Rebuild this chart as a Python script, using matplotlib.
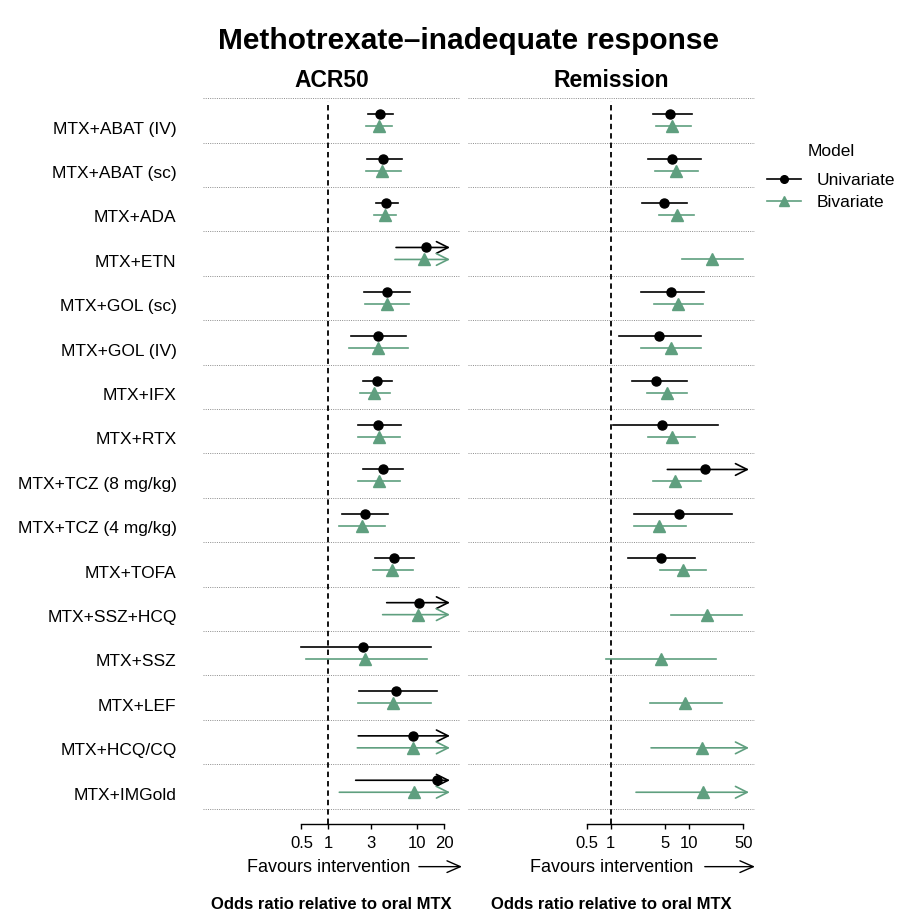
import numpy as np
import matplotlib.pyplot as plt
from matplotlib.lines import Line2D
from matplotlib.ticker import NullLocator

plt.rcParams['font.family'] = ['Liberation Sans', 'DejaVu Sans']

# treatments, top to bottom
labels = ['MTX+ABAT (IV)', 'MTX+ABAT (sc)', 'MTX+ADA', 'MTX+ETN', 'MTX+GOL (sc)',
          'MTX+GOL (IV)', 'MTX+IFX', 'MTX+RTX', 'MTX+TCZ (8 mg/kg)', 'MTX+TCZ (4 mg/kg)',
          'MTX+TOFA', 'MTX+SSZ+HCQ', 'MTX+SSZ', 'MTX+LEF', 'MTX+HCQ/CQ', 'MTX+IMGold']

inf = np.inf
nan = np.nan

# ACR50 - univariate model (odds ratio, lower, upper); inf = beyond axis
acr_uni_est = [3.81, 4.15, 4.45, 12.5, 4.53, 3.59, 3.49, 3.65, 4.15, 2.58, 5.47, 10.5, 2.47, 5.77, 9.02, 16.8]
acr_uni_lo = [2.81, 2.70, 3.41, 5.77, 2.54, 1.78, 2.43, 2.17, 2.47, 1.41, 3.35, 4.53, 0.49, 2.23, 2.17, 2.03]
acr_uni_hi = [5.37, 6.73, 6.02, inf, 8.28, 7.40, 5.15, 6.51, 6.96, 4.65, 9.18, inf, 14.1, 16.8, inf, inf]

# ACR50 - bivariate model
acr_biv_est = [3.71, 4.05, 4.34, 12.0, 4.53, 3.65, 3.29, 3.71, 3.74, 2.41, 5.24, 10.3, 2.58, 5.37, 9.02, 9.25]
acr_biv_lo = [2.65, 2.65, 3.24, 5.61, 2.61, 1.72, 2.27, 2.17, 2.14, 1.33, 3.15, 4.08, 0.56, 2.14, 2.12, 1.33]
acr_biv_hi = [5.24, 6.56, 5.77, inf, 8.13, 7.93, 4.93, 6.39, 6.39, 4.34, 8.88, inf, 12.7, 14.3, inf, inf]

# Remission - univariate model (nan = not estimated)
rem_uni_est = [5.76, 6.05, 4.87, nan, 5.93, 4.16, 3.85, 4.51, 16.2, 7.51, 4.42, nan, nan, nan, nan, nan]
rem_uni_lo = [3.45, 3.04, 2.54, nan, 2.42, 1.28, 1.86, 1.08, 5.32, 2.01, 1.67, nan, nan, nan, nan, nan]
rem_uni_hi = [10.9, 14.4, 9.42, nan, 15.9, 14.5, 9.42, 23.5, inf, 35.6, 12.0, nan, nan, nan, nan, nan]

# Remission - bivariate model
rem_biv_est = [6.17, 6.87, 7.01, 19.7, 7.36, 5.93, 5.22, 6.05, 6.67, 4.16, 8.38, 17.0, 4.37, 8.97, 14.7, 15.1]
rem_biv_lo = [3.81, 3.70, 4.20, 8.13, 3.62, 2.44, 2.89, 2.98, 3.45, 2.01, 4.29, 5.93, 0.87, 3.19, 3.29, 2.11]
rem_biv_hi = [10.6, 13.3, 11.7, 49.2, 15.1, 14.5, 9.42, 12.0, 14.5, 9.16, 16.7, 48.7, 22.2, 27.0, inf, inf]

acr_ticks = [0.5, 1, 3, 10, 20]
rem_ticks = [0.5, 1, 5, 10, 50]

GREEN = '#5f9f7f'
BLACK = '#000000'

W, H = 901, 913
fig = plt.figure(figsize=(W / 100, H / 100), dpi=100)

def add_ax(x0, x1, top=95, bottom=824):
    return fig.add_axes([x0 / W, 1 - bottom / H, (x1 - x0) / W, (bottom - top) / H])

panels = [
    dict(title='ACR50', px=(203, 460), xlim=(0.0391, 30.2), ticks=acr_ticks, tip=23.3,
         fav=(0.171, 0.84, 1.008),
         uni=(acr_uni_est, acr_uni_lo, acr_uni_hi), biv=(acr_biv_est, acr_biv_lo, acr_biv_hi)),
    dict(title='Remission', px=(468, 755), xlim=(0.0148, 70.8), ticks=rem_ticks, tip=59.3,
         fav=(0.216, 0.825, 1.0),
         uni=(rem_uni_est, rem_uni_lo, rem_uni_hi), biv=(rem_biv_est, rem_biv_lo, rem_biv_hi)),
]

n = len(labels)
centers = n - 0.5 - np.arange(n)

for j, p in enumerate(panels):
    ax = add_ax(*p['px'])
    ax.set_xscale('log')
    ax.set_xlim(*p['xlim'])
    ax.set_ylim(-0.345, n + 0.074)

    for k in range(n + 1):
        ax.axhline(k, color='#8c8c8c', lw=0.7, ls=(0, (1, 1.3)), zorder=0)
    ax.axvline(1, color='black', lw=1.3, ls=(0, (3, 2.2)),
               ymin=0, ymax=(n - 0.05 + 0.345) / (n + 0.074 + 0.345), zorder=1)

    for (est, lo, hi), dy, color, marker, ms in [(p['uni'], 0.14, BLACK, 'o', 6.5),
                                               (p['biv'], -0.13, GREEN, '^', 8.0)]:
        est, lo, hi = np.array(est), np.array(lo), np.array(hi)
        ys = centers + dy
        for i in range(n):
            if np.isnan(est[i]):
                continue
            if np.isinf(hi[i]):
                ax.annotate('', xy=(p['tip'], ys[i]), xytext=(lo[i], ys[i]),
                            arrowprops=dict(arrowstyle='->,head_length=0.6,head_width=0.3',
                                            color=color, lw=1.2, mutation_scale=14,
                                            shrinkA=0, shrinkB=0))
            else:
                ax.plot([lo[i], hi[i]], [ys[i], ys[i]], color=color, lw=1.2, zorder=2)
        ax.plot(est, ys, ls='none', marker=marker, color=color, ms=ms, zorder=3)

    for s in ['top', 'right', 'left']:
        ax.spines[s].set_visible(False)
    ax.spines['bottom'].set_bounds(p['ticks'][0], p['ticks'][-1])
    ax.spines['bottom'].set_linewidth(1.0)
    ax.set_xticks(p['ticks'], [f'{t:g}' for t in p['ticks']])
    ax.xaxis.set_minor_locator(NullLocator())
    ax.tick_params(axis='x', direction='out', length=3.5, width=1.0, pad=5, labelsize=12)

    if j == 0:
        ax.set_yticks(centers - 0.16, labels)
        ax.tick_params(axis='y', length=0, pad=19, labelsize=12.5)
    else:
        ax.set_yticks([])

    ax.set_title(p['title'], fontsize=16.5, fontweight='bold', pad=6)

    fx, a0, a1 = p['fav']
    ax.text(fx, -0.0595, 'Favours intervention', transform=ax.transAxes,
            ha='left', va='center', fontsize=13)
    ax.annotate('', xy=(a1, -0.0585), xytext=(a0, -0.0585),
                xycoords='axes fraction', textcoords='axes fraction',
                arrowprops=dict(arrowstyle='->,head_length=0.8,head_width=0.35',
                                color='black', lw=1.0, mutation_scale=12,
                                shrinkA=0, shrinkB=0))
    ax.text(0.5, -0.11, 'Odds ratio relative to oral MTX', transform=ax.transAxes,
            ha='center', va='center', fontsize=12, fontweight='bold')

fig.text(468 / W, 1 - 41 / H, 'Methotrexate\u2013inadequate response',
         ha='center', va='center', fontsize=21.5, fontweight='bold')

# legend
fig.text(831 / W, 1 - 152 / H, 'Model', ha='center', va='center', fontsize=12.5)
handles = [Line2D([], [], color=BLACK, marker='o', ms=5.5, lw=1.2),
           Line2D([], [], color=GREEN, marker='^', ms=6.5, lw=1.2)]
fig.legend(handles, ['Univariate', 'Bivariate'], loc='upper left',
           bbox_to_anchor=(767 / W, 1 - 173 / H), frameon=False, fontsize=12.5,
           handlelength=1.95, handletextpad=0.9,
           labelspacing=0.38, borderpad=0, borderaxespad=0)

fig.savefig('out.png', dpi=100)
